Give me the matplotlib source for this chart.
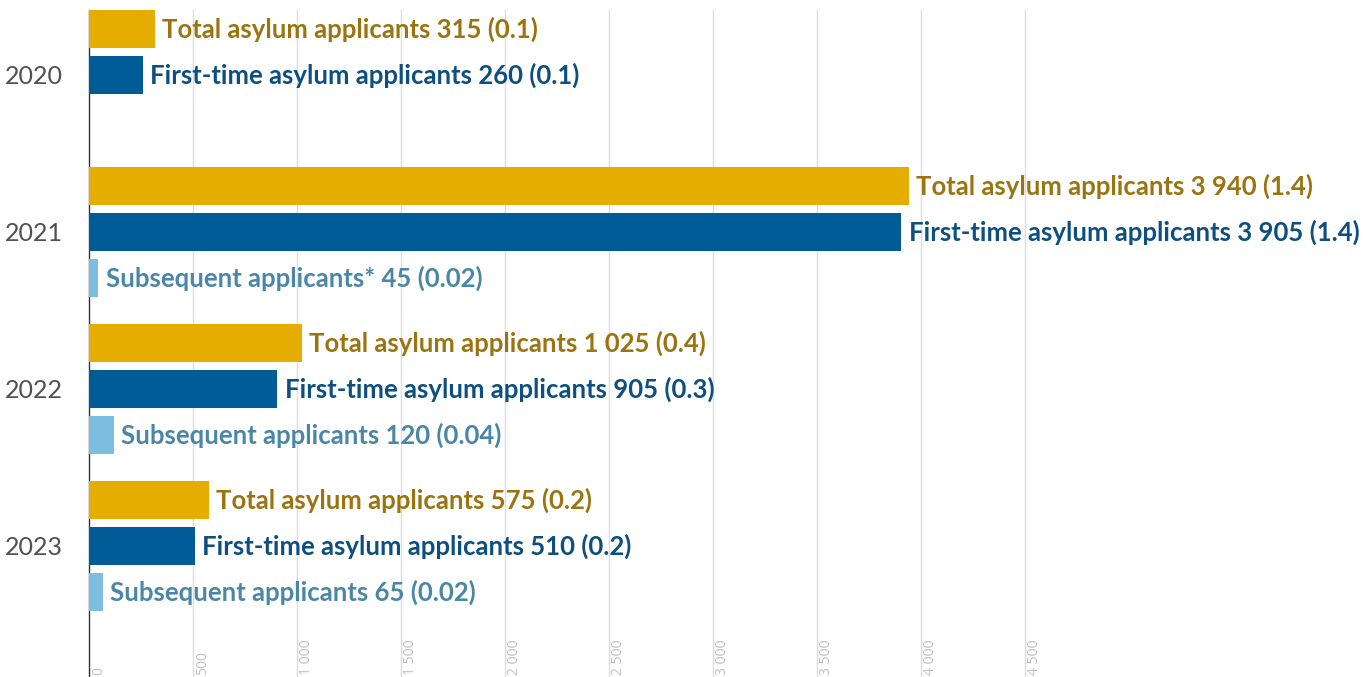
import numpy as np
import matplotlib.pyplot as plt
from matplotlib.transforms import blended_transform_factory

# Datos
years = ["2020", "2021", "2022", "2023"]
total = [315, 3940, 1025, 575]
first_time = [260, 3905, 905, 510]
subsequent = [None, 45, 120, 65]
total_lbl = ["315 (0.1)", "3 940 (1.4)", "1 025 (0.4)", "575 (0.2)"]
first_lbl = ["260 (0.1)", "3 905 (1.4)", "905 (0.3)", "510 (0.2)"]
sub_lbl = [None, "45 (0.02)", "120 (0.04)", "65 (0.02)"]
sub_name = [None, "Subsequent applicants*", "Subsequent applicants", "Subsequent applicants"]
ticks = np.arange(0, 5000, 500)
tick_lbl = ["0", "500", "1 000", "1 500", "2 000", "2 500", "3 000", "3 500", "4 000", "4 500"]

c_total, t_total = "#e5ad00", "#9b7410"
c_first, t_first = "#005b96", "#0d4f80"
c_sub, t_sub = "#7dbde0", "#4a86a8"

plt.rcParams['font.family'] = ['Lato', 'DejaVu Sans']

fig = plt.figure(figsize=(13.68, 6.77), dpi=100)
W, H = 1368, 677
ax = fig.add_axes([89 / W, 0, 1 - 89 / W, 1 - 10 / H])

paso = 157 / 46  # separacion entre grupos en unidades de barra
h = 38 / 46
fs = 18.5

for g in range(len(years)):
    base = g * paso
    ax.barh(base, total[g], height=h, color=c_total, zorder=3)
    ax.text(total[g] + 35, base, "Total asylum applicants " + total_lbl[g],
            va="center", ha="left", color=t_total, fontsize=fs, fontweight="bold", zorder=4)
    ax.barh(base + 1, first_time[g], height=h, color=c_first, zorder=3)
    ax.text(first_time[g] + 35, base + 1, "First-time asylum applicants " + first_lbl[g],
            va="center", ha="left", color=t_first, fontsize=fs, fontweight="bold", zorder=4)
    if subsequent[g] is not None:
        ax.barh(base + 2, subsequent[g], height=h, color=c_sub, zorder=3)
        ax.text(subsequent[g] + 35, base + 2, sub_name[g] + " " + sub_lbl[g],
                va="center", ha="left", color=t_sub, fontsize=fs, fontweight="bold", zorder=4)

ax.set_xlim(0, (W - 89) / 0.208)
ax.set_ylim(14.09, -19 / 46)
ax.set_yticks([g * paso + 1 for g in range(len(years))])
ax.set_yticklabels(years, fontsize=18, color="#505050")
ax.tick_params(axis="y", length=0, pad=19)
ax.set_xticks([])

for t in ticks[1:]:
    ax.axvline(t, color="#dddddd", lw=1, zorder=1)

tr = blended_transform_factory(ax.transData, fig.transFigure)
for t, l in zip(ticks, tick_lbl):
    ax.text(t + 10, 0.003, l, rotation=90, ha="left", va="bottom", fontsize=10,
            color="#c0c0c0", transform=tr, family="Open Sans")

for s in ["top", "right", "bottom"]:
    ax.spines[s].set_visible(False)
ax.spines["left"].set_color("#333333")
ax.spines["left"].set_linewidth(1)

fig.savefig("out.png", dpi=100)
